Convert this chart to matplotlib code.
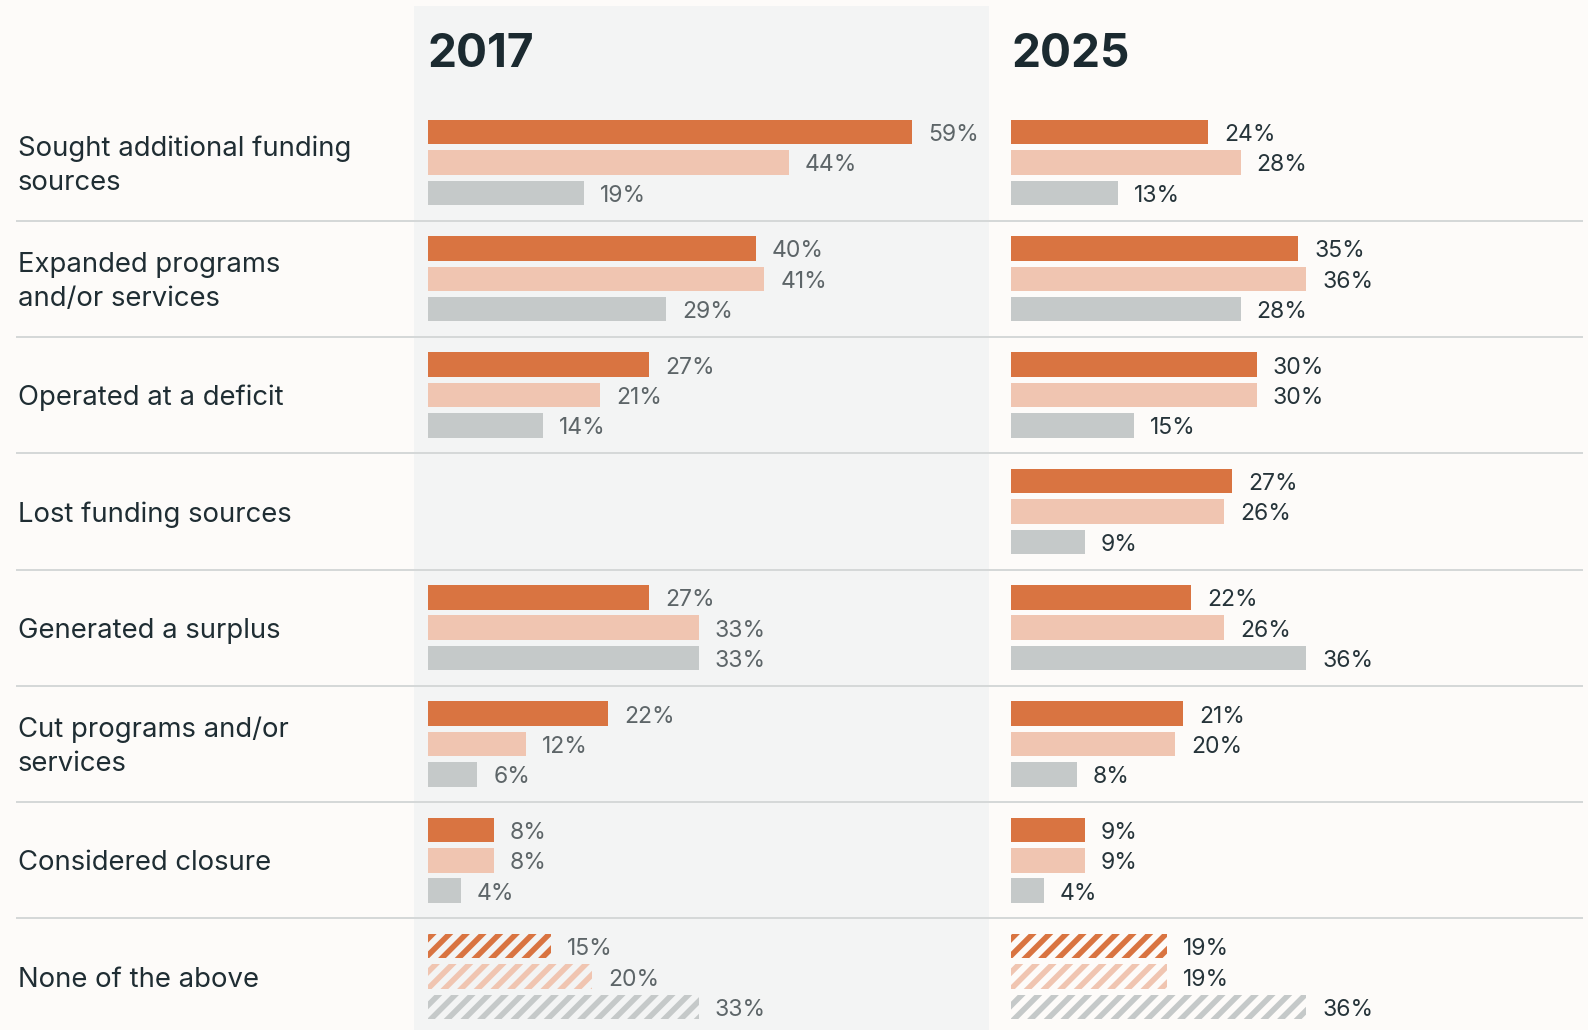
import numpy as np
import matplotlib.pyplot as plt
from matplotlib.patches import Rectangle
from matplotlib.lines import Line2D

# data
categories = [
    "Sought additional funding\nsources",
    "Expanded programs\nand/or services",
    "Operated at a deficit",
    "Lost funding sources",
    "Generated a surplus",
    "Cut programs and/or\nservices",
    "Considered closure",
    "None of the above",
]
years = ["2017", "2025"]
hatched_rows = [7]

dark_2017 = [59, 40, 27, np.nan, 27, 22, 8, 15]
light_2017 = [44, 41, 21, np.nan, 33, 12, 8, 20]
grey_2017 = [19, 29, 14, np.nan, 33, 6, 4, 33]

dark_2025 = [24, 35, 30, 27, 22, 21, 9, 19]
light_2025 = [28, 36, 30, 26, 26, 20, 9, 19]
grey_2025 = [13, 28, 15, 9, 36, 8, 4, 36]

series_colors = ["#d97441", "#f0c5b1", "#c5c9c9"]

W, H = 1588, 1030
DPI = 200
PT = 72 / DPI  # points per pixel

plt.rcParams['font.family'] = ['Inter', 'DejaVu Sans']
plt.rcParams['hatch.linewidth'] = 2.0

fig = plt.figure(figsize=(W / DPI, H / DPI), dpi=DPI)
fig.patch.set_facecolor("#fdfbf9")

def fx(px):
    return px / W

def fy(py):
    return 1 - py / H

# grey panel behind 2017
fig.add_artist(Rectangle((fx(414), 0), fx(989) - fx(414), fy(6), transform=fig.transFigure,
                         facecolor="#f3f4f4", edgecolor="none", zorder=-2))

row0 = 162.5      # px centre of first row
row_step = 116.3  # px between rows
px_per_pct = 8.2
pitch = 30.4 / row_step
bar_h = 24.5 / row_step
ylims = ((H - row0) / row_step, -row0 / row_step)

# separators
for i in range(len(categories) - 1):
    yy = row0 + (i + 0.5) * row_step
    fig.add_artist(Line2D([fx(17), fx(1582)], [fy(yy), fy(yy)], color="#d5d8d8",
                          lw=2 * PT, zorder=-1))

# category labels
for i, cat in enumerate(categories):
    fig.text(fx(18), fy(row0 + i * row_step + 3), cat, ha="left", va="center",
             fontsize=27.5 * PT, color="#1f2d33", linespacing=1.4)

panels = [
    (428, 989, [dark_2017, light_2017, grey_2017], "#5d6568"),
    (1011, W, [dark_2025, light_2025, grey_2025], "#26343a"),
]

for year, (x0, x1, series, lab_color) in zip(years, panels):
    ax = fig.add_axes([fx(x0), 0, fx(x1) - fx(x0), 1])
    ax.patch.set_alpha(0)
    ax.set_xlim(0, (x1 - x0) / px_per_pct)
    ax.set_ylim(*ylims)
    ax.axis("off")
    fig.text(fx(x0), fy(55), year, ha="left", va="center", fontsize=46 * PT,
             fontweight="bold", color="#1b2a30")
    for k, (vals, col) in enumerate(zip(series, series_colors)):
        vals = np.array(vals, dtype=float)
        for i, v in enumerate(vals):
            if np.isnan(v):
                continue
            y = i + (k - 1) * pitch
            if i in hatched_rows:
                ax.barh(y, v, height=bar_h, facecolor="none", edgecolor=col,
                        hatch="////", linewidth=0)
            else:
                ax.barh(y, v, height=bar_h, color=col, linewidth=0)
            ax.annotate(f"{v:.0f}%", xy=(v, y), xytext=(16 * PT, -3 * PT),
                        textcoords="offset points", ha="left", va="center",
                        fontsize=23 * PT, color=lab_color)

fig.savefig("out.png", dpi=DPI, facecolor=fig.get_facecolor())
